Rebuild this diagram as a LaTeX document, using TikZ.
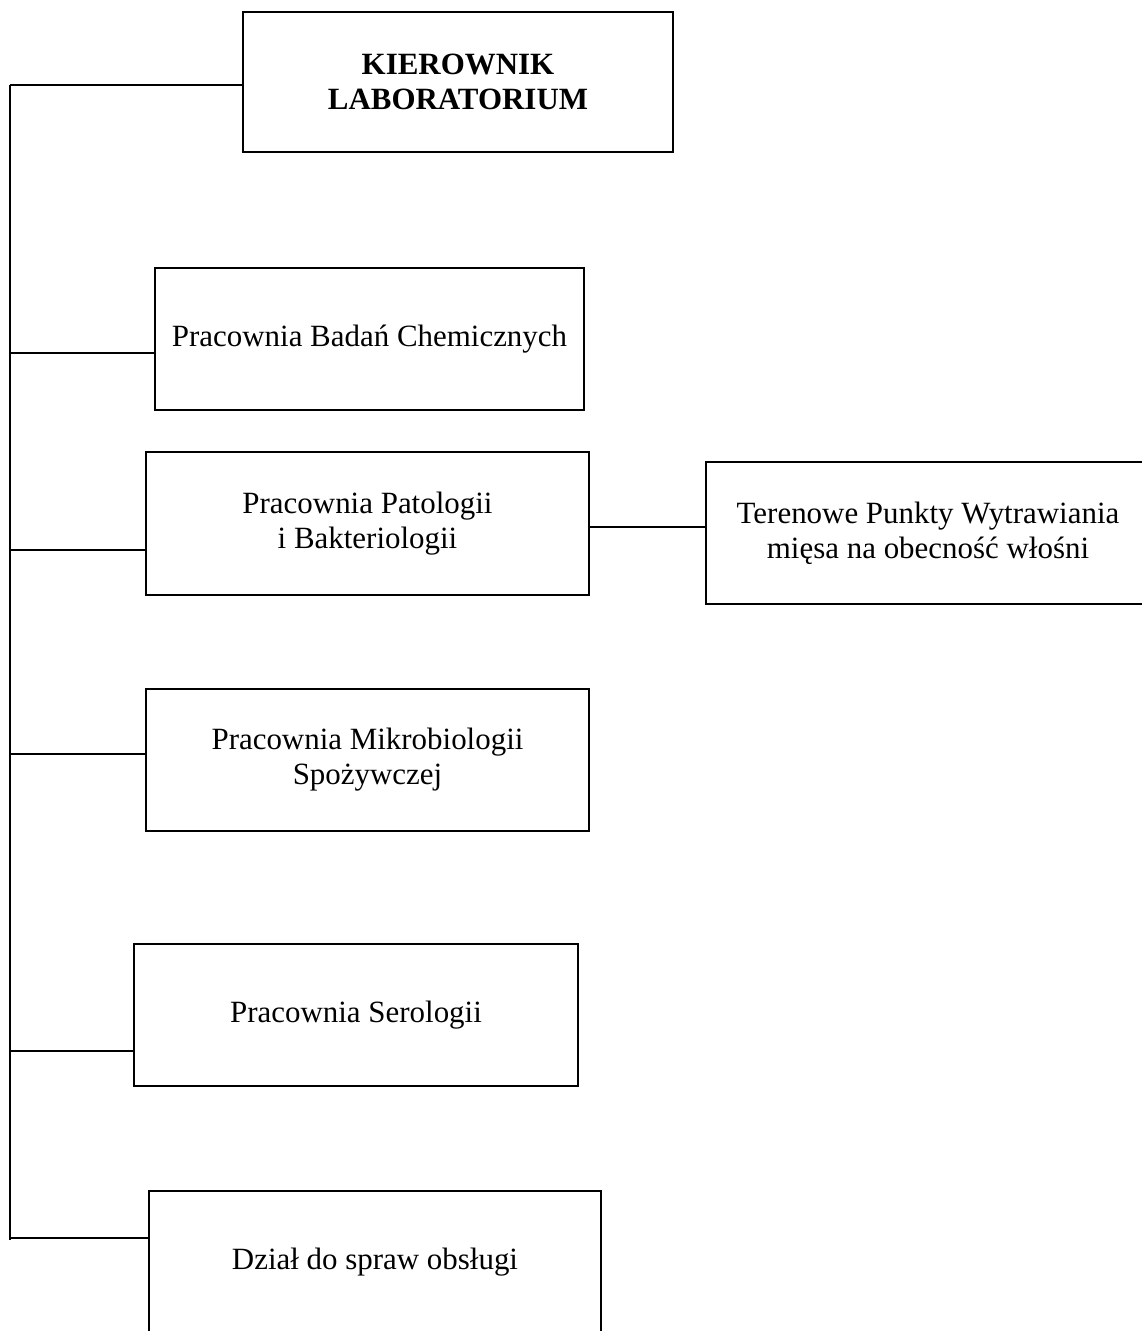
\documentclass[tikz,border=0pt]{standalone}
\usepackage{fontspec}
\setmainfont{Liberation Serif}
\usetikzlibrary{calc}

\begin{document}
\begin{tikzpicture}[x=0.025cm,y=-0.025cm,
    unit/.style={draw,line width=1pt,align=center,inner sep=0pt,
        font=\fontsize{22}{25}\selectfont},
    link/.style={line width=1.4pt}]
    \clip (0,0) rectangle (1142,1331);
    \useasboundingbox (0,0) rectangle (1142,1331);

    \node[unit,font=\fontsize{22}{25}\selectfont\bfseries,minimum width=10.75cm,minimum height=3.5cm] (kier) at (458,82) {KIEROWNIK\\LABORATORIUM};
    \node[unit,minimum width=10.725cm,minimum height=3.55cm] (chem) at (369.5,339) {Pracownia Badań Chemicznych};
    \node[unit,minimum width=11.075cm,minimum height=3.575cm] (pato) at (367.5,523.5) {Pracownia Patologii\\i Bakteriologii};
    \node[unit,minimum width=11.1cm,minimum height=3.55cm] (teren) at (928,533) {Terenowe Punkty Wytrawiania\\mięsa na obecność włośni};
    \node[unit,minimum width=11.075cm,minimum height=3.55cm] (mikro) at (367.5,760) {Pracownia Mikrobiologii\\Spożywczej};
    \node[unit,minimum width=11.1cm,minimum height=3.55cm] (sero) at (356,1015) {Pracownia Serologii};
    \node[unit,minimum width=11.3cm,minimum height=3.55cm] (dzial) at (375,1262) {Dział do spraw obsługi};

    \coordinate (spinetop) at (10,85);
    \coordinate (spinebot) at (10,1240);
    \draw[link] (spinetop) -- (spinebot);

    \coordinate (kierin) at ($(kier.north west)!0.52!(kier.south west)$);
    \coordinate (chemin) at ($(chem.north west)!0.6!(chem.south west)$);
    \coordinate (patoin) at ($(pato.north west)!0.685!(pato.south west)$);
    \coordinate (patoout) at ($(pato.north east)!0.525!(pato.south east)$);
    \coordinate (mikroin) at ($(mikro.north west)!0.46!(mikro.south west)$);
    \coordinate (seroin) at ($(sero.north west)!0.75!(sero.south west)$);
    \coordinate (dzialin) at ($(dzial.north west)!0.33!(dzial.south west)$);
    \foreach \n in {kierin,chemin,patoin,mikroin,seroin,dzialin}
        \draw[link] (\n -| spinetop) -- (\n);

    \draw[link] (patoout) -- (patoout -| teren.west);
\end{tikzpicture}
\end{document}
